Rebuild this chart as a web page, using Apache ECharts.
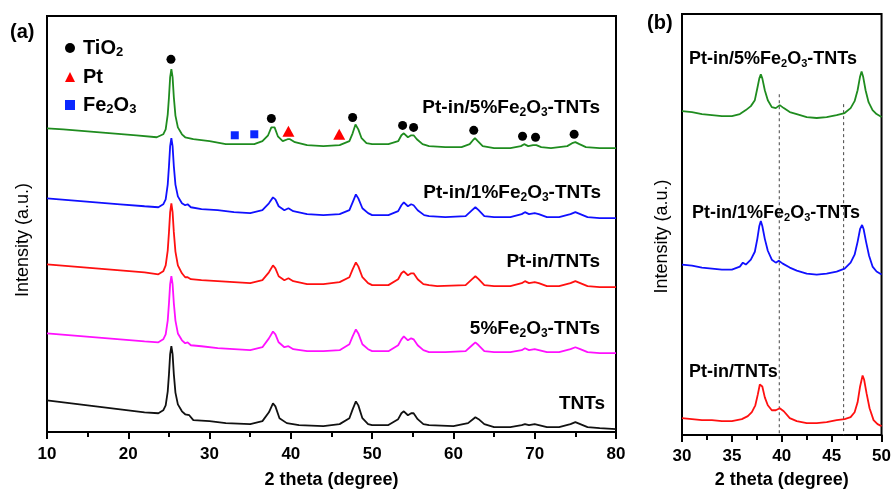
<!DOCTYPE html>
<html>
<head>
<meta charset="utf-8">
<script src="https://cdn.jsdelivr.net/npm/echarts@6/dist/echarts.min.js"></script>
<style>html,body{margin:0;padding:0;background:#fff}#c{width:894px;height:494px}</style>
</head>
<body>
<div id="c"></div>
<script>
// ---------- Panel (a) data: [2theta, intensity (a.u., stacked offset)] ----------
const xrdA_5Fe_Pt = [[10,308],[12,307],[15,305],[18,303],[21,301],[23.5,299],[24.3,302],[24.6,307],[24.85,322],[25.0,339],[25.15,360],[25.3,368],[25.45,360],[25.6,340],[25.8,321],[26.1,309],[26.6,302],[27,299],[28,297],[30,295],[32,292],[34,292],[35.5,292],[36.5,295],[37.2,301],[37.6,309],[37.8,311],[38.0,309],[38.4,300],[39.0,295],[39.6,297],[39.9,297],[40.5,294],[42,291],[44,290],[46,291],[47.2,295],[47.6,303],[47.95,312],[48.3,307],[48.7,298],[49.3,293],[50,292],[52,292],[53.2,295],[53.6,301],[53.9,303],[54.4,299],[54.8,301],[55.1,301],[55.5,297],[56.2,292],[57,290],[59,289],[61,289],[62,292],[62.4,296],[62.65,298],[63.0,295],[63.6,290],[65,288],[67,288],[68.3,290],[68.7,292],[69.2,290],[69.8,291],[70.2,291],[70.8,289],[72,288],[74,290],[74.6,293],[75.0,294],[75.5,292],[76.3,289],[78,288],[80,288]];
const xrdA_1Fe_Pt = [[10,237],[13,235],[16,233],[19,231],[22,229],[23.7,228],[24.3,231],[24.6,236],[24.85,251],[25.0,269],[25.15,290],[25.3,298],[25.45,290],[25.6,270],[25.8,251],[26.1,239],[26.6,232],[27.0,230],[27.3,231],[27.7,228],[29,226],[31,225],[33,223],[35,222],[36.5,225],[37.3,232],[37.8,238],[38.1,236],[38.5,229],[39.2,225],[39.7,227],[40.3,224],[42,221],[44,220],[46,221],[47.2,225],[47.6,233],[48.0,241],[48.3,237],[48.8,227],[49.5,222],[50,220],[52,220],[53.2,224],[53.6,230],[53.9,233],[54.4,229],[54.8,231],[55.1,230],[55.6,225],[56.4,220],[57,219],[59,218],[61.5,219],[62.3,225],[62.7,228],[63.1,225],[63.8,219],[65,218],[67,218],[68.4,221],[68.8,223],[69.3,221],[70.0,222],[70.5,221],[71.5,218],[73,218],[74.4,221],[75.0,223],[75.6,221],[76.5,218],[78,217],[80,217]];
const xrdA_Pt = [[10,170],[13,168],[16,166],[19,164],[22,162],[23.7,160],[24.3,163],[24.6,169],[24.85,184],[25.0,202],[25.15,223],[25.3,232],[25.45,223],[25.6,203],[25.8,183],[26.1,169],[26.6,161],[27.0,157],[27.3,157],[27.7,155],[29,154],[31,153],[33,152],[35,151],[36.5,154],[37.3,162],[37.8,169],[38.1,166],[38.5,158],[39.2,154],[39.7,156],[40.3,153],[42,150],[44,150],[46,152],[47.2,157],[47.6,165],[48.0,172],[48.3,168],[48.8,157],[49.5,151],[50,149],[52,149],[53.2,155],[53.6,161],[53.9,163],[54.4,159],[54.8,161],[55.1,161],[55.6,155],[56.3,150],[57,149],[58,148],[61.5,149],[62.3,155],[62.7,158],[63.1,155],[63.8,149],[65,148],[67,148],[68.4,151],[68.8,153],[69.3,151],[70.0,152],[70.5,151],[71.5,148],[73,148],[74.4,151],[75.0,153],[75.6,151],[76.5,148],[78,147],[80,147]];
const xrdA_5Fe = [[10,100],[13,98],[16,96],[19,94],[22,92],[23.7,91],[24.3,94],[24.6,99],[24.85,113],[25.0,130],[25.15,150],[25.3,158],[25.45,150],[25.6,131],[25.8,113],[26.1,100],[26.6,93],[27.0,90],[27.3,91],[27.7,88],[29,87],[31,85],[33,84],[35,83],[36.5,86],[37.3,95],[37.8,102],[38.1,99],[38.5,91],[39.2,86],[39.7,87],[40.3,84],[42,82],[44,82],[46,83],[47.2,89],[47.6,97],[48.0,104],[48.3,100],[48.8,89],[49.5,84],[50,82],[52,82],[53.2,88],[53.6,94],[53.9,97],[54.4,93],[54.8,95],[55.1,94],[55.6,88],[56.3,83],[57,81],[59,81],[61.5,82],[62.3,88],[62.7,91],[63.1,88],[63.8,82],[65,81],[67,81],[68.4,83],[68.8,85],[69.3,83],[70.0,84],[70.5,83],[71.5,81],[73,81],[74.4,84],[75.0,86],[75.6,84],[76.5,81],[78,80],[80,80]];
const xrdA_TNTs = [[10,32],[13,29],[16,26],[19,23],[22,20],[23.7,19],[24.3,22],[24.6,27],[24.85,41],[25.0,58],[25.15,79],[25.3,87],[25.45,79],[25.6,59],[25.8,40],[26.1,28],[26.6,21],[27.0,18],[27.5,17],[28,12],[30,11],[32,9],[35,8],[36.5,11],[37.3,20],[37.8,29],[38.1,26],[38.6,14],[39.5,9],[41,7],[44,6],[46,8],[47.2,14],[47.6,23],[48.0,31],[48.3,27],[48.8,14],[49.5,8],[50,7],[52,7],[53.2,13],[53.6,19],[53.9,21],[54.4,17],[54.8,19],[55.1,19],[55.6,13],[56.3,8],[57,7],[60,6],[61.8,9],[62.4,13],[62.7,15],[63.1,13],[63.8,8],[65,5],[67,5],[68.4,7],[68.8,8],[69.3,7],[70.0,8],[70.5,7],[71.5,5],[73,5],[74.4,8],[75.0,10],[75.6,8],[76.5,5],[78,4],[80,3]];

// phase markers in panel (a)
const markTiO2 = [[25.25,378],[37.6,318],[47.6,319],[53.75,311],[55.1,309],[62.5,306],[68.5,300],[70.1,299],[74.85,302]];
const markPt = [[39.7,305],[45.95,302]];
const markFe2O3 = [[33.1,301],[35.5,302]];

// ---------- Panel (b) data ----------
const xrdB_5Fe_Pt = [[30,327],[31,326],[32,324],[33,323],[34,322],[35,322],[35.8,324],[36.4,328],[36.9,332],[37.3,338],[37.55,350],[37.75,360],[37.9,364],[38.05,360],[38.3,348],[38.6,338],[39.0,331],[39.4,330],[39.8,333],[40.2,330],[40.8,326],[41.5,324],[42.5,321],[43.5,320],[44.5,321],[45.5,323],[46.3,325],[46.9,330],[47.3,337],[47.6,348],[47.85,362],[48.0,367],[48.15,362],[48.4,348],[48.7,336],[49.1,328],[49.5,324],[50,321]];
const xrdB_1Fe_Pt = [[30,172],[31,171],[32,169],[33,168],[34,167],[35,167],[35.8,170],[36.1,174],[36.4,172],[36.9,177],[37.3,185],[37.55,198],[37.75,211],[37.9,216],[38.05,211],[38.3,198],[38.6,186],[39.0,177],[39.4,174],[39.7,176],[40.1,173],[40.8,169],[41.5,166],[42.5,163],[43.5,162],[44.5,163],[45.5,165],[46.3,168],[46.9,174],[47.3,182],[47.6,195],[47.85,208],[48.05,212],[48.2,208],[48.45,195],[48.75,181],[49.1,170],[49.5,165],[50,162]];
const xrdB_Pt = [[30,17],[31,16],[32,15],[33,15],[34,14],[35,14],[36,16],[36.6,19],[37.0,23],[37.35,30],[37.6,41],[37.8,51],[37.9,53],[38.05,49],[38.3,38],[38.6,30],[39.0,25],[39.4,25],[39.8,27],[40.2,24],[40.8,17],[41.5,14],[42.5,12],[43.5,12],[44.5,13],[45.5,15],[46.3,16],[46.9,18],[47.3,23],[47.6,33],[47.85,49],[48.1,60],[48.25,56],[48.5,42],[48.8,27],[49.2,15],[49.6,11],[50,9]];
const refLine1 = [[39.75,344],[39.75,0]];
const refLine2 = [[46.2,334],[46.2,0]];

const labelsA = ['Pt-in/5%Fe2O3-TNTs','Pt-in/1%Fe2O3-TNTs','Pt-in/TNTs','5%Fe2O3-TNTs','TNTs'];
const labelsB = ['Pt-in/5%Fe2O3-TNTs','Pt-in/1%Fe2O3-TNTs','Pt-in/TNTs'];
const xTitle = '2 theta (degree)';
const yTitle = 'Intensity (a.u.)';

const FONT = '"Liberation Sans", Arial, sans-serif';
function richName(s){
  return s.replace(/Fe2O3/g,'{a|Fe}{s|2}{a|O}{s|3}').replace(/TiO2/g,'{a|TiO}{s|2}')
    .split(/(\{[as]\|[^}]*\})/).map(p => p.startsWith('{') || p === '' ? p : '{a|' + p + '}').join('');
}
function rich(fs, sub){
  return {a:{fontSize:fs,fontWeight:'bold',fontFamily:FONT,color:'#000',lineHeight:fs+2},
          s:{fontSize:sub,fontWeight:'bold',fontFamily:FONT,color:'#000',lineHeight:fs+2,verticalAlign:'bottom'}};
}
function txt(x, y, str, align, fs){
  return {type:'text', x:x, y:y, style:{text:richName(str), rich:rich(fs, Math.round(fs*0.62)), align:align, verticalAlign:'middle'}};
}

const axisCommon = {
  axisLine:{show:true, lineStyle:{color:'#000', width:2}},
  axisTick:{show:true, inside:false, length:7, lineStyle:{color:'#000', width:2}},
  minorTick:{show:true, splitNumber:2, length:5, lineStyle:{color:'#000', width:2}},
  splitLine:{show:false},
  nameLocation:'middle',
  nameTextStyle:{color:'#000', fontSize:18, fontWeight:'bold', fontFamily:FONT}
};
const yCommon = {
  type:'value', axisLabel:{show:false}, axisTick:{show:false}, splitLine:{show:false},
  axisLine:{show:true, lineStyle:{color:'#000', width:2}},
  nameLocation:'middle'
};
const lab = m => ({color:'#000', fontSize:17, fontWeight:'bold', fontFamily:FONT, margin:m});

const chart = echarts.init(document.getElementById('c'));
const lineS = (data, color, xi) => ({type:'line', data:data, xAxisIndex:xi, yAxisIndex:xi, showSymbol:false, symbol:'none',
  lineStyle:{color:color, width:1.8}, silent:true, animation:false, z:2});

chart.setOption({
  animation:false,
  backgroundColor:'#fff',
  grid:[
    {left:47, top:16, width:569, height:422, show:true, borderColor:'#000', borderWidth:2, backgroundColor:'transparent'},
    {left:682, top:14, width:203, height:425, show:true, borderColor:'#000', borderWidth:2, backgroundColor:'transparent'}
  ],
  xAxis:[
    Object.assign({}, axisCommon, {type:'value', gridIndex:0, min:10, max:80, interval:10, name:xTitle, nameGap:39, axisLabel:lab(14)}),
    Object.assign({}, axisCommon, {type:'value', gridIndex:1, min:30, max:50, interval:5, name:xTitle, nameGap:36, axisLabel:lab(13)})
  ],
  yAxis:[
    Object.assign({}, yCommon, {gridIndex:0, min:0, max:422, name:yTitle, nameGap:15,
      nameTextStyle:{color:'#000', fontSize:18, fontFamily:FONT, padding:[0,32,0,0]}}),
    Object.assign({}, yCommon, {gridIndex:1, min:0, max:425, name:yTitle, nameGap:11,
      nameTextStyle:{color:'#000', fontSize:18, fontFamily:FONT, padding:[0,24,0,0]}})
  ],
  legend:{
    orient:'vertical', left:65, top:38, padding:0, itemGap:8, itemWidth:10, itemHeight:10,
    data:['TiO2','Pt','Fe2O3'],
    formatter: n => richName(n),
    textStyle:{rich:rich(20, 13), padding:[0,0,0,3]},
    selectedMode:false
  },
  series:[
    lineS(xrdA_5Fe_Pt, '#1f8c1f', 0),
    lineS(xrdA_1Fe_Pt, '#1010ff', 0),
    lineS(xrdA_Pt, '#ff1010', 0),
    lineS(xrdA_5Fe, '#ff10ff', 0),
    lineS(xrdA_TNTs, '#111111', 0),
    {type:'scatter', name:'TiO2', data:markTiO2, symbol:'circle', symbolSize:9, itemStyle:{color:'#000', opacity:1}, z:5},
    {type:'scatter', name:'Pt', data:markPt, symbol:'triangle', symbolSize:[12,11], itemStyle:{color:'#ff0000', opacity:1}, z:5},
    {type:'scatter', name:'Fe2O3', data:markFe2O3, symbol:'rect', symbolSize:8, itemStyle:{color:'#0a28ff', opacity:1}, z:5},
    lineS(xrdB_5Fe_Pt, '#1f8c1f', 1),
    lineS(xrdB_1Fe_Pt, '#1010ff', 1),
    lineS(xrdB_Pt, '#ff1010', 1),
    {type:'line', data:refLine1, xAxisIndex:1, yAxisIndex:1, symbol:'none', lineStyle:{color:'#444', width:1, type:[3,3]}, z:1},
    {type:'line', data:refLine2, xAxisIndex:1, yAxisIndex:1, symbol:'none', lineStyle:{color:'#444', width:1, type:[3,3]}, z:1}
  ],
  graphic:[
    txt(10, 32, '(a)', 'left', 20),
    txt(647, 23, '(b)', 'left', 20),
    txt(600, 108, labelsA[0], 'right', 19),
    txt(601, 193, labelsA[1], 'right', 19),
    txt(600, 262, labelsA[2], 'right', 19),
    txt(600, 329, labelsA[3], 'right', 19),
    txt(605, 404, labelsA[4], 'right', 19),
    txt(689, 59, labelsB[0], 'left', 18),
    txt(692, 213, labelsB[1], 'left', 18),
    txt(689, 372, labelsB[2], 'left', 18)
  ]
});
</script>
</body>
</html>
